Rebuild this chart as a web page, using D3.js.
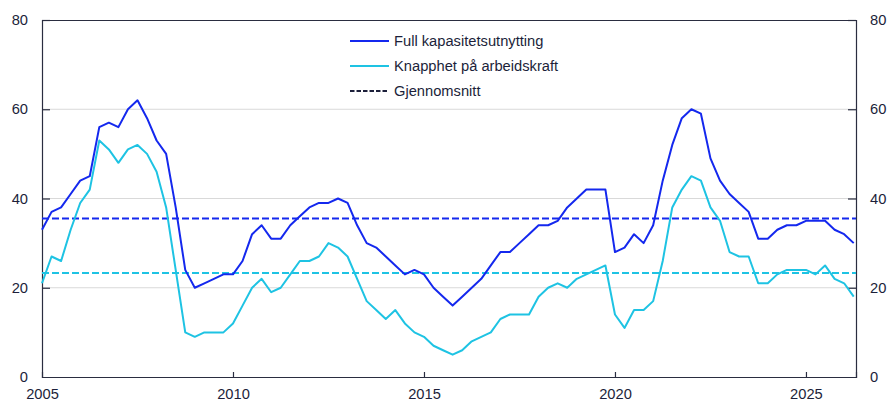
<!DOCTYPE html>
<html>
<head>
<meta charset="utf-8">
<script src="https://cdn.jsdelivr.net/npm/d3@7"></script>
<style>
body { margin: 0; background: #fff; }
text { font-family: "Liberation Sans", Arial, sans-serif; fill: #1c1f3a; }
</style>
</head>
<body>
<svg id="chart" width="890" height="403"></svg>
<script>
const startYear = 2005;
const fullCapacity = [33,37,38,41,44,45,56,57,56,60,62,58,53,50,38,24,20,21,22,23,23,26,32,34,31,31,34,36,38,39,39,40,39,34,30,29,27,25,23,24,23,20,18,16,18,20,22,25,28,28,30,32,34,34,35,38,40,42,42,42,28,29,32,30,34,44,52,58,60,59,49,44,41,39,37,31,31,33,34,34,35,35,35,33,32,30];
const labourShortage = [21,27,26,33,39,42,53,51,48,51,52,50,46,38,24,10,9,10,10,10,12,16,20,22,19,20,23,26,26,27,30,29,27,22,17,15,13,15,12,10,9,7,6,5,6,8,9,10,13,14,14,14,18,20,21,20,22,23,24,25,14,11,15,15,17,26,38,42,45,44,38,35,28,27,27,21,21,23,24,24,24,23,25,22,21,18];
const averages = [35.5, 23.3];
const seriesNames = ["Full kapasitetsutnytting", "Knapphet på arbeidskraft", "Gjennomsnitt"];
const yTicks = [0, 20, 40, 60, 80];
const xTicks = [2005, 2010, 2015, 2020, 2025];
const colors = ["#1428ee", "#1ec3e3"];

const svg = d3.select("#chart");
const m = {left: 42, right: 856, top: 20, bottom: 377};
const x = d3.scaleLinear().domain([2005, 2026.31]).range([m.left, m.right]);
const y = d3.scaleLinear().domain([0, 80]).range([m.bottom, m.top]);
const fs = "14.7px";

// gridlines
svg.append("g").selectAll("line").data(yTicks.filter(d => d > 0 && d < 80)).join("line")
  .attr("x1", m.left).attr("x2", m.right)
  .attr("y1", d => y(d)).attr("y2", d => y(d))
  .attr("stroke", "#d9d9d9").attr("stroke-width", 1);

// axes
const axisColor = "#2a2d40";
const gLeft = svg.append("g").attr("transform", `translate(${m.left},0)`)
  .call(d3.axisLeft(y).tickValues(yTicks).tickSize(-8).tickPadding(14));
const gRight = svg.append("g").attr("transform", `translate(${m.right},0)`)
  .call(d3.axisRight(y).tickValues(yTicks).tickSize(-8).tickPadding(14));
const gBottom = svg.append("g").attr("transform", `translate(0,${m.bottom})`)
  .call(d3.axisBottom(x).tickValues(xTicks).tickFormat(d3.format("d")).tickSize(-5).tickPadding(12));
const gTop = svg.append("g").attr("transform", `translate(0,${m.top})`)
  .call(d3.axisTop(x).tickValues([]).tickSize(0));
[gLeft, gRight, gBottom, gTop].forEach(g => {
  g.select(".domain").attr("stroke", axisColor).attr("stroke-width", 1.2);
  g.selectAll(".tick line").attr("stroke", axisColor).attr("stroke-width", 1.2);
  g.selectAll("text").style("font-size", fs).style("font-family", "Liberation Sans, Arial, sans-serif").attr("fill", "#1c1f3a");
});
gLeft.selectAll(".tick").filter(d => d === 0).select("line").remove();
gRight.selectAll(".tick").filter(d => d === 0).select("line").remove();
gBottom.selectAll(".tick").filter(d => d === 2005).select("line").remove();
gRight.selectAll("text").attr("x", 14);
gLeft.selectAll("text").attr("x", -14);

// averages
averages.forEach((a, i) => {
  svg.append("line").attr("x1", m.left).attr("x2", m.right)
    .attr("y1", y(a)).attr("y2", y(a))
    .attr("stroke", colors[i]).attr("stroke-width", 2).attr("stroke-dasharray", "7,3");
});

// lines
const line = d3.line().x((d, i) => x(startYear + i * 0.25)).y(d => y(d));
[labourShortage, fullCapacity].forEach((s, k) => {
  svg.append("path").datum(s).attr("d", line)
    .attr("fill", "none").attr("stroke", k === 0 ? colors[1] : colors[0])
    .attr("stroke-width", 2).attr("stroke-linejoin", "round");
});

// legend
const lg = svg.append("g");
const rows = [41, 66, 91];
const lcol = [colors[0], colors[1], "#1c1f3a"];
seriesNames.forEach((n, i) => {
  lg.append("line").attr("x1", 350).attr("x2", 389).attr("y1", rows[i]).attr("y2", rows[i])
    .attr("stroke", lcol[i]).attr("stroke-width", 2)
    .attr("stroke-dasharray", i === 2 ? "4.5,2" : null);
  lg.append("text").attr("x", 394).attr("y", rows[i]).attr("dy", "0.35em")
    .style("font-size", fs).text(n);
});
</script>
</body>
</html>
